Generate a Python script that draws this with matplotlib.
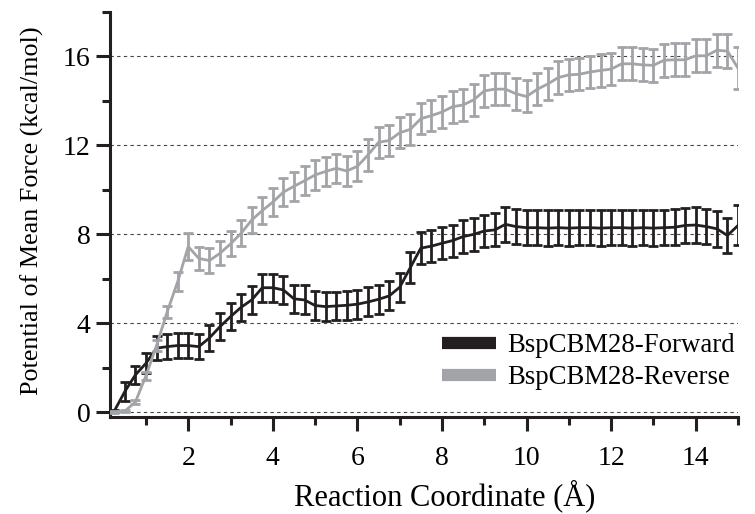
import numpy as np
import matplotlib
matplotlib.use("Agg")
import matplotlib.pyplot as plt
from matplotlib.lines import Line2D
from matplotlib.ticker import MultipleLocator

plt.rcParams["font.family"] = ["Liberation Serif", "DejaVu Serif"]

# Reaction coordinate sampling (Å)
coord = np.arange(0.25, 15.0 + 0.125, 0.25)

# PMF profiles (kcal/mol) and their standard errors
forward_pmf = [
    0.05, 0.93, 1.68, 2.20, 2.88, 2.95, 3.00, 3.00,
    2.95, 3.34, 3.85, 4.30, 4.72, 5.05, 5.60, 5.60,
    5.50, 5.10, 5.05, 4.80, 4.75, 4.78, 4.81, 4.86,
    4.96, 5.08, 5.23, 5.62, 6.50, 7.38, 7.47, 7.60,
    7.72, 7.90, 8.00, 8.15, 8.20, 8.45, 8.35, 8.30,
    8.30, 8.28, 8.30, 8.28, 8.30, 8.30, 8.28, 8.30,
    8.30, 8.28, 8.30, 8.28, 8.30, 8.32, 8.40, 8.42,
    8.35, 8.25, 7.95, 8.40,
]
forward_err = [
    0.05, 0.42, 0.42, 0.45, 0.55, 0.55, 0.55, 0.55,
    0.55, 0.60, 0.62, 0.62, 0.62, 0.62, 0.62, 0.62,
    0.63, 0.64, 0.65, 0.65, 0.65, 0.65, 0.65, 0.65,
    0.65, 0.65, 0.65, 0.65, 0.70, 0.72, 0.72, 0.72,
    0.72, 0.73, 0.73, 0.74, 0.74, 0.80, 0.80, 0.80,
    0.80, 0.80, 0.80, 0.80, 0.80, 0.80, 0.80, 0.80,
    0.80, 0.80, 0.80, 0.80, 0.80, 0.80, 0.80, 0.80,
    0.80, 0.80, 0.80, 0.90,
]
reverse_pmf = [
    0.00, 0.05, 0.46, 1.64, 3.00, 4.50, 5.87, 7.45,
    6.92, 6.82, 7.15, 7.57, 8.05, 8.64, 9.07, 9.45,
    9.90, 10.16, 10.41, 10.67, 10.83, 10.97, 10.85, 11.06,
    11.57, 12.14, 12.22, 12.57, 12.72, 13.20, 13.34, 13.50,
    13.74, 13.82, 14.05, 14.45, 14.53, 14.53, 14.32, 14.20,
    14.52, 14.76, 15.05, 15.17, 15.20, 15.30, 15.37, 15.43,
    15.67, 15.67, 15.62, 15.60, 15.83, 15.85, 15.85, 16.03,
    16.03, 16.28, 16.24, 15.47,
]
reverse_err = [
    0.05, 0.05, 0.10, 0.18, 0.25, 0.28, 0.42, 0.60,
    0.52, 0.55, 0.55, 0.56, 0.58, 0.60, 0.62, 0.62,
    0.63, 0.65, 0.66, 0.66, 0.66, 0.66, 0.68, 0.68,
    0.70, 0.70, 0.70, 0.70, 0.70, 0.70, 0.71, 0.72,
    0.72, 0.72, 0.72, 0.72, 0.72, 0.72, 0.72, 0.72,
    0.72, 0.72, 0.73, 0.73, 0.73, 0.73, 0.73, 0.73,
    0.74, 0.74, 0.74, 0.74, 0.74, 0.74, 0.75, 0.75,
    0.75, 0.75, 0.75, 0.95,
]

series_labels = ["BspCBM28-Forward", "BspCBM28-Reverse"]
dark = "#231f20"
light = "#a2a4a7"

fig = plt.figure(figsize=(7.55, 5.14), dpi=100)
ax = fig.add_axes([0.1457, 0.1893, 0.8318, 0.7874])

for pmf, err, col, z in [(forward_pmf, forward_err, dark, 3),
                         (reverse_pmf, reverse_err, light, 4)]:
    ax.errorbar(coord, pmf, yerr=err, color=col, lw=2.0, elinewidth=2.0,
                capsize=3.8, capthick=2.0, zorder=z)

ax.set_xlim(0.15, 15)
ax.set_ylim(-0.2, 18)

ax.xaxis.set_minor_locator(MultipleLocator(1))
ax.yaxis.set_minor_locator(MultipleLocator(2))
ax.set_xticks([2, 4, 6, 8, 10, 12, 14])
ax.set_yticks([0, 4, 8, 12, 16])

for side in ["top", "right"]:
    ax.spines[side].set_visible(False)
for side in ["left", "bottom"]:
    ax.spines[side].set_linewidth(2.2)
    ax.spines[side].set_color(dark)

ax.tick_params(which="major", length=10, width=2.2, color=dark,
               labelsize=20, direction="out")
ax.tick_params(which="minor", length=6, width=2.2, color=dark,
               direction="out")
ax.tick_params(axis="x", which="major", pad=11)
ax.tick_params(axis="y", which="major", pad=4)

ax.yaxis.grid(True, which="major", linestyle=(0, (3, 3)),
              color="#444444", lw=0.8, zorder=1)
ax.set_axisbelow(True)

ax.set_xlabel("Reaction Coordinate (Å)", fontsize=22)
ax.xaxis.set_label_coords(0.533, -0.155)
ax.set_ylabel("Potential of Mean Force (kcal/mol)", fontsize=18.8)
ax.yaxis.set_label_coords(-0.105, 0.51)

handles = [Line2D([0], [0], color=dark, lw=8.8, solid_capstyle="butt"),
           Line2D([0], [0], color=light, lw=8.8, solid_capstyle="butt")]
ax.legend(handles, series_labels, loc="center left",
          bbox_to_anchor=(0.5287, 0.136), frameon=False, fontsize=19.3,
          borderpad=0, borderaxespad=0, handlelength=2.0,
          handletextpad=0.45, labelspacing=0.25)

fig.savefig("out.png", dpi=100)
